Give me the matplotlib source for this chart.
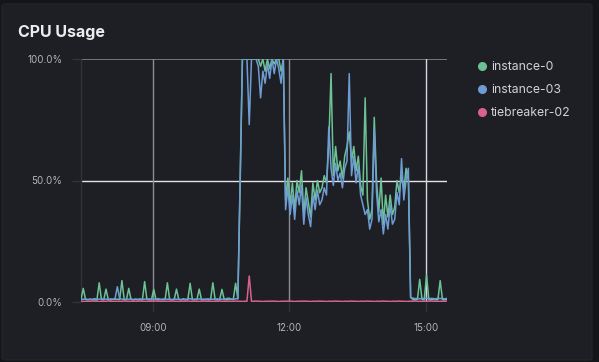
import numpy as np
import pandas as pd
import matplotlib
matplotlib.use("Agg")
import matplotlib.pyplot as plt
import matplotlib.dates as mdates
from matplotlib.patches import FancyBboxPatch
from matplotlib.lines import Line2D

plt.rcParams['font.family'] = ['Inter', 'DejaVu Sans']

# samples every 3 minutes, 07:25 -> 15:28
times = pd.date_range('2024-01-01 07:25', periods=162, freq='3min')

instance_0 = [
    1.0, 5.6, 1.0, 0.9, 1.1, 0.9, 1.0, 0.8, 7.9, 1.0,
    0.9, 5.3, 1.0, 0.9, 1.1, 1.0, 1.2, 1.0, 8.8, 1.0,
    0.9, 5.6, 1.0, 0.9, 1.1, 0.9, 1.0, 0.9, 8.4, 1.0,
    0.9, 1.0, 5.2, 1.0, 0.9, 1.1, 0.9, 1.0, 7.9, 1.0,
    0.9, 1.0, 5.3, 1.0, 0.9, 1.1, 0.9, 1.0, 7.7, 1.0,
    0.9, 1.0, 5.3, 1.0, 0.9, 1.1, 0.9, 1.0, 7.9, 1.0,
    0.9, 1.0, 5.2, 1.0, 0.9, 1.1, 1.2, 1.0, 7.7, 1.3,
    48,
    100, 100, 100, 100, 100, 100, 100, 100, 97, 100,
    95, 100, 96, 100, 98, 100, 100, 95, 100,
    42, 51, 40, 49, 38, 50, 45, 54, 36, 47,
    41, 35, 49, 42, 50, 45, 47, 52, 49, 65,
    94, 52, 64, 54, 58, 51, 60, 64, 70, 58,
    64, 54, 60, 48, 44, 84, 42, 34, 38, 76,
    50, 37, 51, 32, 44, 35, 44, 36, 39, 50,
    45, 52, 46, 55, 50, 2.0,
    1.0, 0.9, 1.1, 9.3, 1.0, 0.9, 11.1, 1.0, 0.9, 1.1,
    1.0, 0.9, 8.8, 1.0, 0.9, 1.1,
]

instance_03 = [
    1.2, 1.1, 1.3, 1.0, 1.2, 1.1, 1.4, 1.0, 1.2, 1.3,
    1.1, 1.2, 1.0, 1.3, 1.1, 1.5, 6.3, 1.4, 1.2, 1.0,
    1.2, 1.1, 1.3, 1.0, 1.2, 1.1, 1.3, 1.0, 1.2, 1.1,
    1.3, 1.0, 1.2, 1.1, 1.4, 1.0, 1.2, 1.3, 1.1, 1.2,
    1.0, 1.3, 1.1, 1.2, 1.0, 1.3, 1.1, 1.2, 1.4, 1.0,
    1.2, 1.1, 1.3, 1.0, 1.2, 1.1, 1.3, 1.0, 1.2, 1.1,
    1.3, 1.0, 1.2, 1.1, 1.4, 1.6, 1.2, 1.1, 1.3, 1.4,
    50,
    100, 100, 100, 73, 100, 100, 100, 97, 84, 95,
    90, 98, 92, 100, 94, 100, 96, 90, 100,
    38, 47, 36, 44, 34, 46, 40, 48, 32, 43,
    36, 31, 44, 38, 46, 40, 42, 47, 44, 72,
    55, 48, 57, 50, 53, 47, 55, 58, 94, 52,
    60, 49, 56, 44, 40, 36, 38, 30, 34, 71,
    45, 33, 38, 28, 36, 30, 40, 32, 34, 45,
    40, 59, 42, 50, 55, 1.8,
    1.6, 1.4, 1.5, 1.3, 1.5, 1.4, 1.6, 1.3, 1.5, 1.4,
    1.3, 1.6, 1.4, 1.5, 1.3, 1.5,
]

tiebreaker_02 = [
    0.3, 0.3, 0.2, 0.3, 0.3, 0.4, 0.3, 0.3, 0.2, 0.3,
    0.3, 0.3, 0.4, 0.3, 0.3, 0.2, 0.3, 0.3, 0.3, 0.4,
    0.3, 0.3, 0.2, 0.3, 0.3, 0.3, 0.4, 0.3, 0.3, 0.2,
    0.3, 0.3, 0.3, 0.4, 0.3, 0.3, 0.2, 0.3, 0.3, 0.3,
    0.4, 0.3, 0.3, 0.2, 0.3, 0.3, 0.3, 0.4, 0.3, 0.3,
    0.2, 0.3, 0.3, 0.3, 0.4, 0.3, 0.3, 0.2, 0.3, 0.3,
    0.3, 0.4, 0.3, 0.3, 0.2, 0.3, 0.3, 0.3, 0.4, 0.3,
    0.3, 0.2, 0.3, 0.3, 10.7, 0.3, 0.3, 0.4, 0.3, 0.3,
    0.2, 0.3, 0.3, 0.3, 0.4, 0.3, 0.3, 0.2, 0.3, 0.3,
    0.3, 0.4, 0.3, 0.3, 0.2, 0.3, 0.3, 0.3, 0.4, 0.3,
    0.3, 0.2, 0.3, 0.3, 0.3, 0.4, 0.3, 0.3, 0.2, 0.3,
    0.3, 0.3, 0.4, 0.3, 0.3, 0.2, 0.3, 0.3, 0.3, 0.4,
    0.3, 0.3, 0.2, 0.3, 0.3, 0.3, 0.4, 0.3, 0.3, 0.2,
    0.3, 0.3, 0.3, 0.4, 0.3, 0.3, 0.2, 0.3, 0.3, 0.3,
    0.4, 0.3, 0.3, 0.2, 0.3, 0.3, 0.3, 0.4, 0.3, 0.3,
    0.2, 0.3, 0.3, 0.3, 0.4, 0.3, 0.3, 0.2, 0.3, 0.3,
    0.3, 0.4,
]

series_names = ['instance-0', 'instance-03', 'tiebreaker-02']
series_colors = ['#6cc295', '#6e9cd4', '#d9628d']
y_ticks = [0, 50, 100]
x_tick_hours = [9, 12, 15]

bg = '#1e1f24'
fig = plt.figure(figsize=(5.99, 3.62), dpi=100)
fig.patch.set_facecolor('#141518')
panel = FancyBboxPatch((2 / 599, 2 / 362), 590 / 599, 356 / 362,
                       boxstyle='round,pad=0,rounding_size=0.006',
                       transform=fig.transFigure, facecolor=bg,
                       edgecolor='#26272c', linewidth=0.8, zorder=-10)
fig.patches.append(panel)

ax = fig.add_axes([81 / 599, 60 / 362, 366 / 599, 243 / 362])
ax.set_facecolor(bg)

# grid lines (colours vary like the reference)
ax.axhline(100, color='#8c8c92', lw=1.1, zorder=1)
ax.axhline(50, color='#e4e4e8', lw=1.0, zorder=1)
vcols = ['#8c8c92', '#8c8c92', '#d6d6de']
for h, c in zip(x_tick_hours, vcols):
    ax.axvline(pd.Timestamp(2024, 1, 1, h), color=c, lw=1.0, zorder=1)

data = [instance_0, instance_03, tiebreaker_02]
for vals, name, col in zip(data, series_names, series_colors):
    ax.plot(times, vals, color=col, lw=1.1, label=name, zorder=3)

ax.set_xlim(times[0], times[-1])
ax.set_ylim(0, 100)
ax.set_yticks(y_ticks)
ax.set_yticklabels([f'{v:.1f}%' for v in y_ticks])
ax.xaxis.set_major_locator(mdates.HourLocator(byhour=x_tick_hours))
ax.xaxis.set_major_formatter(mdates.DateFormatter('%H:%M'))

for s in ['top', 'right', 'bottom']:
    ax.spines[s].set_visible(False)
ax.spines['left'].set_color('#323338')
ax.spines['left'].set_linewidth(1.0)
ax.tick_params(axis='y', colors='#323338', labelcolor='#b4b4b8',
               labelsize=7, length=6.5, width=1.0, pad=7)
ax.tick_params(axis='x', colors='#323338', labelcolor='#b4b4b8',
               labelsize=7, length=7, width=1.0, pad=8)

fig.text(18 / 599, 1 - 33 / 362, 'CPU Usage', color='#ececee',
         fontsize=11.5, fontweight='bold', va='center', ha='left')

handles = [Line2D([], [], marker='o', ls='', color=c, markersize=5.5)
           for c in series_colors]
fig.legend(handles, series_names, loc='upper left',
           bbox_to_anchor=(476 / 599, 1 - 61 / 362), frameon=False,
           fontsize=8.8, labelcolor='#d2d2d6', handletextpad=0.35,
           labelspacing=0.92, handlelength=0.9, borderpad=0, borderaxespad=0)

fig.savefig('out.png', dpi=100, facecolor=fig.get_facecolor())
